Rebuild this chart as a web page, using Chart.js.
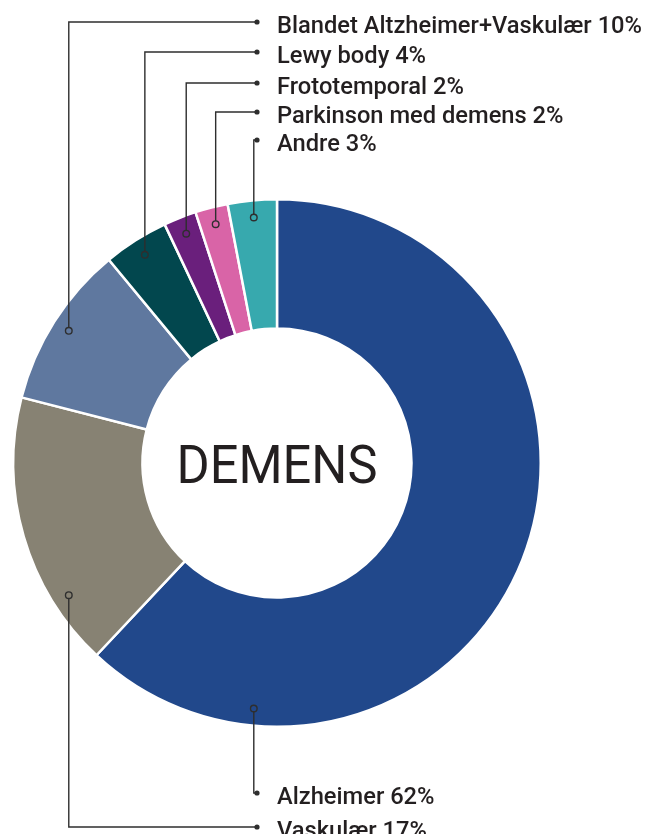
<!DOCTYPE html>
<html><head><meta charset="utf-8">
<script src="https://cdn.jsdelivr.net/npm/chart.js@4"></script>
<style>html,body{margin:0;padding:0;background:#fff;} #wrap{width:648px;height:834px;position:relative}</style>
</head><body><div id="wrap"><canvas id="c" width="648" height="834"></canvas></div>
<script>
const categories = ['Alzheimer','Vaskulær','Blandet Altzheimer+Vaskulær','Lewy body','Frototemporal','Parkinson med demens','Andre'];
const shares = [62, 17, 10, 4, 2, 2, 3];
const colors = ['#21488b','#878273','#5f789f','#02474e','#6a1f7c','#d964a7','#37a9ae'];
const centerTitle = 'DEMENS';

const TEXT = '#231f20';
const LINE = '#2e2e2e';

const leaderPlugin = {
  id: 'leaders',
  afterDraw(chart, args, opts) {
    const ctx = chart.ctx;
    const arcs = chart.getDatasetMeta(0).data;
    const cx = arcs[0].x, cy = arcs[0].y, R = arcs[0].outerRadius;
    const rA = R * 0.935;
    const anchor = i => {
      const a = (arcs[i].startAngle + arcs[i].endAngle) / 2;
      return {x: cx + rA * Math.cos(a), y: cy + rA * Math.sin(a)};
    };
    const pts = {};
    [2,3,4,5,6].forEach(i => pts[i] = anchor(i));
    // bottom labels mirror the outermost top anchors
    pts[0] = {x: pts[6].x, y: 2 * cy - pts[6].y};
    pts[1] = {x: pts[2].x, y: 2 * cy - pts[2].y};

    ctx.save();
    ctx.font = '500 23px Roboto';
    const sx = 365 / ctx.measureText(categories[2] + ' ' + shares[2] + '%').width;
    opts.rows.forEach(row => {
      const i = row.index, p = pts[i];
      ctx.strokeStyle = LINE; ctx.lineWidth = 1.4;
      ctx.beginPath();
      ctx.moveTo(p.x, p.y);
      ctx.lineTo(p.x, row.y);
      ctx.lineTo(opts.dotX, row.y);
      ctx.stroke();
      ctx.fillStyle = LINE;
      ctx.beginPath(); ctx.arc(opts.dotX, row.y, 2.6, 0, Math.PI * 2); ctx.fill();
      ctx.fillStyle = colors[i];
      ctx.beginPath(); ctx.arc(p.x, p.y, 3.3, 0, Math.PI * 2); ctx.fill(); ctx.stroke();
      ctx.fillStyle = TEXT;
      ctx.textBaseline = 'alphabetic';
      ctx.save();
      ctx.translate(opts.textX, row.y + 10.5);
      ctx.scale(sx, 1);
      ctx.fillText(categories[i] + ' ' + shares[i] + '%', 0, 0);
      ctx.restore();
    });
    ctx.font = '53px Roboto';
    const w = ctx.measureText(centerTitle).width;
    const s2 = 201 / w;
    ctx.save();
    ctx.translate(cx, cy + 20);
    ctx.scale(s2, 1);
    ctx.textAlign = 'center';
    ctx.fillStyle = TEXT;
    ctx.fillText(centerTitle, 0, 0);
    ctx.restore();
    ctx.restore();
  }
};

new Chart(document.getElementById('c'), {
  type: 'doughnut',
  data: {
    labels: categories,
    datasets: [{
      data: shares,
      backgroundColor: colors,
      borderColor: '#ffffff',
      borderWidth: 2.5,
      hoverOffset: 0
    }]
  },
  options: {
    responsive: false,
    animation: false,
    cutout: '51%',
    layout: {padding: {left: 12, right: 106, top: 198, bottom: 106}},
    plugins: {
      legend: {display: false},
      tooltip: {enabled: false},
      leaders: {
        dotX: 257,
        textX: 277,
        rows: [
          {index: 2, y: 22},
          {index: 3, y: 52},
          {index: 4, y: 83},
          {index: 5, y: 112},
          {index: 6, y: 140},
          {index: 0, y: 793},
          {index: 1, y: 827}
        ]
      }
    }
  },
  plugins: [leaderPlugin]
});
</script>
</body></html>
